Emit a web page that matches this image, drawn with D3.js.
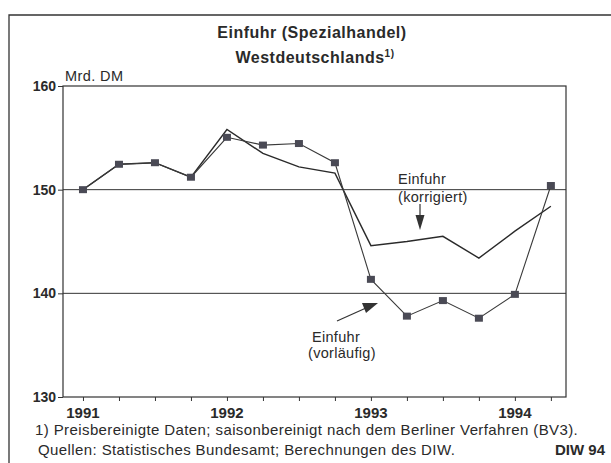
<!DOCTYPE html>
<html>
<head>
<meta charset="utf-8">
<script src="https://cdn.jsdelivr.net/npm/d3@7"></script>
<style>
  body { margin: 0; background: #fff; }
  text { font-family: "Liberation Sans", Arial, sans-serif; fill: #2a2a2a; }
</style>
</head>
<body>
<div id="chart"></div>
<script>
    // Quarterly values, Mrd. DM
    var quarters = ["1991 I","1991 II","1991 III","1991 IV","1992 I","1992 II","1992 III","1992 IV",
                    "1993 I","1993 II","1993 III","1993 IV","1994 I","1994 II"]
    var vorlaeufig = [150.0, 152.45, 152.6, 151.2, 155.05, 154.3, 154.45, 152.6, 141.35, 137.8, 139.3, 137.6, 139.9, 150.4]
    var korrigiert = [150.0, 152.45, 152.6, 151.2, 155.8, 153.5, 152.2, 151.6, 144.6, 145.0, 145.5, 143.4, 146.0, 148.4]
    var yTicks = [130, 140, 150, 160]
    var grid = [140, 150]
    var yearLabels = ["1991", "1992", "1993", "1994"]

    var W = 611, H = 463
    var pL = 63, pR = 566, pT = 86, pB = 397 // plot box (note: 'top' is reserved on window)

    var svg = d3.select('#chart').append('svg')
        .attr('width', W).attr('height', H)

    // outer frame (top and left side only visible)
    svg.append('path')
        .attr('d', 'M9,' + H + ' V15 H' + W)
        .attr('fill', 'none').attr('stroke', '#333').attr('stroke-width', 1.3)

    var x = d3.scaleLinear() // quarter index -> px
        .domain([-0.555, 13.42])
        .range([pL, pR])
    var y = d3.scaleLinear()
        .domain([130, 160])
        .range([pB, pT])

    // title
    svg.append('text').attr('x', 312).attr('y', 38).attr('text-anchor', 'middle')
        .style('font-weight', 'bold').style('font-size', '16px').style('letter-spacing', '0.5px')
        .text('Einfuhr (Spezialhandel)')
    var t2 = svg.append('text').attr('x', 315).attr('y', 63).attr('text-anchor', 'middle')
        .style('font-weight', 'bold').style('font-size', '16px').style('letter-spacing', '0.5px')
    t2.append('tspan').text('Westdeutschlands')
    t2.append('tspan').attr('dy', -6).style('font-size', '10px').text('1)')

    // plot box
    svg.append('rect')
        .attr('x', pL).attr('y', pT)
        .attr('width', pR - pL).attr('height', pB - pT)
        .attr('fill', 'none').attr('stroke', '#333').attr('stroke-width', 1.2)

    // grid lines
    svg.selectAll('.grid').data(grid).enter().append('line')
        .attr('x1', pL).attr('x2', pR)
        .attr('y1', d => y(d)).attr('y2', d => y(d))
        .attr('stroke', '#333').attr('stroke-width', 1)

    // y axis
    var yAxis = svg.append('g')
        .attr('transform', 'translate(' + pL + ',0)')
        .call(d3.axisLeft(y).tickValues(yTicks).tickSize(5).tickPadding(2))
    yAxis.select('.domain').remove()
    yAxis.selectAll('line').attr('stroke', '#333')
    yAxis.selectAll('text')
        .style('font-family', '"Liberation Sans", Arial, sans-serif')
        .style('font-size', '14px').style('font-weight', 'bold').attr('fill', '#2a2a2a')

    svg.append('text').attr('x', 65).attr('y', 81)
        .style('font-size', '14.5px').style('letter-spacing', '0.4px').text('Mrd. DM')

    // x axis (quarterly ticks)
    var xAxis = svg.append('g')
        .attr('transform', 'translate(0,' + pB + ')')
        .call(d3.axisBottom(x).tickValues(d3.range(quarters.length)).tickSize(4).tickFormat(''))
    xAxis.select('.domain').remove()
    xAxis.selectAll('line').attr('stroke', '#333')

    svg.selectAll('.year').data(yearLabels).enter().append('text')
        .attr('x', (d, i) => x(i * 4)).attr('y', 418)
        .attr('text-anchor', 'middle')
        .style('font-size', '15px').style('font-weight', 'bold')
        .text(d => d)

    var line = d3.line()
        .x((d, i) => x(i))
        .y(d => y(d))

    svg.append('path').datum(korrigiert)
        .attr('d', line).attr('fill', 'none')
        .attr('stroke', '#2a2a2a').attr('stroke-width', 1.4)

    svg.append('path').datum(vorlaeufig)
        .attr('d', line).attr('fill', 'none')
        .attr('stroke', '#3a3a3a').attr('stroke-width', 1.1)

    svg.selectAll('.mark').data(vorlaeufig).enter().append('rect')
        .attr('x', (d, i) => x(i) - 4).attr('y', d => y(d) - 3.5)
        .attr('width', 8).attr('height', 7)
        .attr('fill', '#4a4a55')

    // annotations
    svg.append('text').attr('x', 398).attr('y', 184).style('font-size', '14.5px').style('letter-spacing', '0.3px').text('Einfuhr')
    svg.append('text').attr('x', 398).attr('y', 202).style('font-size', '14.5px').style('letter-spacing', '0.3px').text('(korrigiert)')
    svg.append('line').attr('x1', 420).attr('y1', 204).attr('x2', 420).attr('y2', 218)
        .attr('stroke', '#333').attr('stroke-width', 1.2)
    svg.append('path').attr('d', 'M415.5,215 L424.5,215 L420,230 Z').attr('fill', '#333')

    svg.append('text').attr('x', 312).attr('y', 342).style('font-size', '14.5px').style('letter-spacing', '0.3px').text('Einfuhr')
    svg.append('text').attr('x', 308).attr('y', 358).style('font-size', '14.5px').style('letter-spacing', '0.3px').text('(vorläufig)')
    svg.append('line').attr('x1', 337).attr('y1', 321).attr('x2', 366).attr('y2', 308)
        .attr('stroke', '#333').attr('stroke-width', 1.2)
    svg.append('path').attr('d', 'M362,303 L378,303 L366,313 Z').attr('fill', '#333')

    // footnotes
    svg.append('text').attr('x', 35).attr('y', 435).style('font-size', '15px').style('letter-spacing', '0.4px')
        .text('1) Preisbereinigte Daten; saisonbereinigt nach dem Berliner Verfahren (BV3).')
    svg.append('text').attr('x', 38).attr('y', 455).style('font-size', '15px').style('letter-spacing', '0.4px')
        .text('Quellen: Statistisches Bundesamt; Berechnungen des DIW.')
    svg.append('text').attr('x', 605).attr('y', 455).attr('text-anchor', 'end')
        .style('font-size', '15px').style('font-weight', 'bold').text('DIW 94')
</script>
</body>
</html>
